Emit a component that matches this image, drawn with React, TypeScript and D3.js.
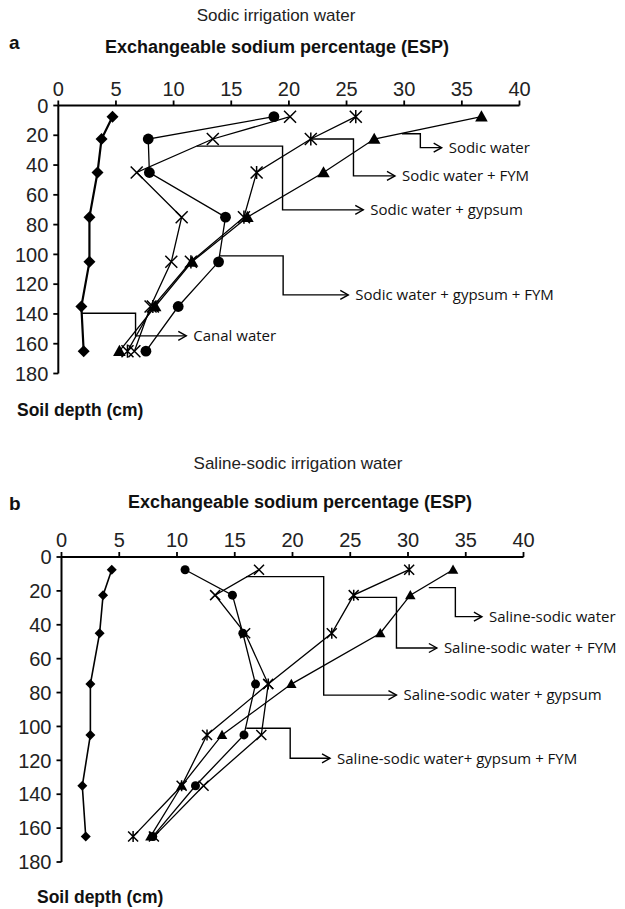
import React from 'react';
import * as d3 from 'd3';

// ---------- data ----------
const DEPTHS = [7.5, 22.5, 45, 75, 105, 135, 165];
const ESP_TICKS = [0, 5, 10, 15, 20, 25, 30, 35, 40];
const DEPTH_TICKS = [0, 20, 40, 60, 80, 100, 120, 140, 160, 180];

// Panel a: sodic irrigation water
const A_CANAL = [4.7, 3.75, 3.4, 2.7, 2.7, 2.0, 2.2];
const A_SODIC = [36.7, 27.4, 23.0, 16.4, 11.6, 8.4, 5.3];
const A_SODIC_FYM = [25.8, 21.9, 17.2, 16.1, 11.5, 8.2, 6.0];
const A_SODIC_GYP = [20.1, 13.4, 6.8, 10.7, 9.8, 8.0, 6.6];
const A_SODIC_GYP_FYM = [18.7, 7.8, 7.9, 14.5, 13.9, 10.4, 7.6];

// Panel b: saline-sodic irrigation water
const B_CANAL = [4.35, 3.6, 3.3, 2.5, 2.5, 1.8, 2.1];
const B_SS = [33.9, 30.2, 27.6, 19.9, 13.9, 10.4, 7.7];
const B_SS_FYM = [30.1, 25.3, 23.4, 17.9, 12.6, 10.4, 6.2];
const B_SS_GYP = [17.1, 13.3, 15.9, 17.9, 17.3, 12.3, 8.0];
const B_SS_GYP_FYM = [10.7, 14.8, 15.7, 16.8, 15.8, 11.6, 7.9];

const A_LABELS = ['Canal water', 'Sodic water', 'Sodic water + FYM', 'Sodic water + gypsum', 'Sodic water + gypsum + FYM'];
const B_LABELS = ['Saline-sodic water', 'Saline-sodic water + FYM', 'Saline-sodic water + gypsum', 'Saline-sodic water+ gypsum + FYM'];

type MarkerType = 'diamond' | 'circle' | 'x' | 'asterisk' | 'triangle';

interface Series { values: number[]; marker: MarkerType; thick?: boolean }
interface Leader { label: string; sx: number; sy: number; ex: number; ey: number; tx: number }

const A_SERIES: Series[] = [
  { values: A_CANAL, marker: 'diamond', thick: true },
  { values: A_SODIC_GYP_FYM, marker: 'circle' },
  { values: A_SODIC_GYP, marker: 'x' },
  { values: A_SODIC_FYM, marker: 'asterisk' },
  { values: A_SODIC, marker: 'triangle' },
];
const B_SERIES: Series[] = [
  { values: B_CANAL, marker: 'diamond', thick: true },
  { values: B_SS_GYP_FYM, marker: 'circle' },
  { values: B_SS_GYP, marker: 'x' },
  { values: B_SS_FYM, marker: 'asterisk' },
  { values: B_SS, marker: 'triangle' },
];

// leaders in data coordinates: start (sx, sy) -> elbow at ex -> down to ey -> arrow to tx
const A_LEADERS: Leader[] = [
  { label: A_LABELS[1], sx: 29.8, sy: 19, ex: 31.4, ey: 28.3, tx: 33.25 },
  { label: A_LABELS[2], sx: 22.0, sy: 22.5, ex: 25.6, ey: 47.3, tx: 29.2 },
  { label: A_LABELS[3], sx: 12.0, sy: 27.3, ex: 19.45, ey: 70.1, tx: 26.45 },
  { label: A_LABELS[4], sx: 14.0, sy: 101, ex: 19.5, ey: 127.2, tx: 25.15 },
  { label: A_LABELS[0], sx: 2.0, sy: 139.5, ex: 6.7, ey: 154.7, tx: 11.1 },
];
const B_LEADERS: Leader[] = [
  { label: B_LABELS[0], sx: 31.8, sy: 18.1, ex: 34.1, ey: 35.2, tx: 36.4 },
  { label: B_LABELS[1], sx: 25.3, sy: 23.8, ex: 29.0, ey: 53.7, tx: 32.5 },
  { label: B_LABELS[2], sx: 16.0, sy: 11.6, ex: 22.7, ey: 81.5, tx: 29.0 },
  { label: B_LABELS[3], sx: 16.0, sy: 101.1, ex: 19.8, ey: 118.8, tx: 23.25 },
];

const AX_FONT = '"Liberation Sans", Arial, sans-serif';
const LEG_FONT = '"Open Sans", "Noto Sans", sans-serif';

function Marker({ type, x, y, size }: { type: MarkerType; x: number; y: number; size: number }) {
  const s = size;
  switch (type) {
    case 'diamond':
      return <path d={`M${x},${y - s}L${x + s},${y}L${x},${y + s}L${x - s},${y}Z`} fill="#000" />;
    case 'circle':
      return <circle cx={x} cy={y} r={s * 0.9} fill="#000" />;
    case 'triangle':
      return <path d={`M${x},${y - s * 1.05}L${x + s * 1.05},${y + s * 0.8}L${x - s * 1.05},${y + s * 0.8}Z`} fill="#000" />;
    case 'x':
      return (
        <path d={`M${x - s},${y - s}L${x + s},${y + s}M${x - s},${y + s}L${x + s},${y - s}`} stroke="#000" strokeWidth={1.5} fill="none" />
      );
    case 'asterisk':
      return (
        <path d={`M${x - s},${y - s}L${x + s},${y + s}M${x - s},${y + s}L${x + s},${y - s}M${x},${y - s * 1.1}L${x},${y + s * 1.1}`} stroke="#000" strokeWidth={1.5} fill="none" />
      );
  }
  return null;
}

interface PanelProps {
  left: number; right: number; top: number; bottom: number;
  series: Series[]; leaders: Leader[];
  markerSize: number; canalWidth: number;
}

function Panel({ left, right, top, bottom, series, leaders, markerSize, canalWidth }: PanelProps) {
  const x = d3.scaleLinear().domain([0, 40]).range([left, right]);
  const y = d3.scaleLinear().domain([0, 180]).range([top, bottom]);
  const line = d3.line<number>().x((v) => x(v)).y((_, i) => y(DEPTHS[i]));
  return (
    <g>
      {/* axes */}
      <line x1={x(0)} x2={x(40)} y1={y(0)} y2={y(0)} stroke="#000" strokeWidth={2} />
      <line x1={x(0)} x2={x(0)} y1={y(0)} y2={y(180)} stroke="#000" strokeWidth={2} />
      {ESP_TICKS.map((t) => (
        <g key={'xt' + t}>
          <line x1={x(t)} x2={x(t)} y1={y(0)} y2={y(0) - 5} stroke="#000" strokeWidth={1.8} />
          <text x={x(t)} y={y(0) - 10} textAnchor="middle" fontFamily={AX_FONT} fontSize={20} fill="#222">{t}</text>
        </g>
      ))}
      {DEPTH_TICKS.map((t) => (
        <g key={'yt' + t}>
          <line x1={x(0) - 5} x2={x(0)} y1={y(t)} y2={y(t)} stroke="#000" strokeWidth={1.8} />
          <text x={x(0) - 10} y={y(t)} dy="0.36em" textAnchor="end" fontFamily={AX_FONT} fontSize={20} fill="#222">{t}</text>
        </g>
      ))}
      {/* leaders */}
      {leaders.map((l, i) => {
        const sx = x(l.sx), sy = y(l.sy), ex = x(l.ex), ey = y(l.ey), tx = x(l.tx);
        return (
          <g key={'ld' + i}>
            <path d={`M${sx},${sy}H${ex}V${ey}H${tx}`} fill="none" stroke="#000" strokeWidth={1.4} />
            <path d={`M${tx - 8},${ey - 4.5}L${tx},${ey}L${tx - 8},${ey + 4.5}`} fill="none" stroke="#000" strokeWidth={1.4} />
            <text x={tx + 7} y={ey} dy="0.36em" fontFamily={LEG_FONT} fontSize={15} fill="#111">{l.label}</text>
          </g>
        );
      })}
      {/* series lines */}
      {series.map((s, i) => (
        <path key={'ln' + i} d={line(s.values) || ''} fill="none" stroke="#000" strokeWidth={s.thick ? canalWidth : 1.3} />
      ))}
      {/* markers */}
      {series.map((s, i) => (
        <g key={'mk' + i}>
          {s.values.map((v, j) => (
            <Marker key={j} type={s.marker} x={x(v)} y={y(DEPTHS[j])} size={markerSize} />
          ))}
        </g>
      ))}
    </g>
  );
}

export default function App() {
  return (
    <svg width={625} height={909} viewBox="0 0 625 909" style={{ position: 'absolute', left: 0, top: 0, background: '#fff' }}>
      <rect width={625} height={909} fill="#fff" />
      {/* Panel a */}
      <text x={276} y={15} dy="0.35em" textAnchor="middle" fontFamily={AX_FONT} fontSize={17} fill="#222">Sodic irrigation water</text>
      <text x={9} y={42} dy="0.35em" fontFamily={AX_FONT} fontSize={19} fontWeight="bold" fill="#111">a</text>
      <text x={277} y={47} dy="0.35em" textAnchor="middle" fontFamily={AX_FONT} fontSize={18} fontWeight="bold" fill="#111">Exchangeable sodium percentage (ESP)</text>
      <Panel left={58.3} right={519.5} top={105.5} bottom={373.5} series={A_SERIES} leaders={A_LEADERS} markerSize={6} canalWidth={2.2} />
      <text x={17} y={410} dy="0.35em" fontFamily={AX_FONT} fontSize={17.5} fontWeight="bold" fill="#111">Soil depth (cm)</text>

      {/* Panel b */}
      <text x={298} y={463} dy="0.35em" textAnchor="middle" fontFamily={AX_FONT} fontSize={17} fill="#222">Saline-sodic irrigation water</text>
      <text x={9} y={503} dy="0.35em" fontFamily={AX_FONT} fontSize={19} fontWeight="bold" fill="#111">b</text>
      <text x={300} y={502} dy="0.35em" textAnchor="middle" fontFamily={AX_FONT} fontSize={18} fontWeight="bold" fill="#111">Exchangeable sodium percentage (ESP)</text>
      <Panel left={61.5} right={523.5} top={557} bottom={862} series={B_SERIES} leaders={B_LEADERS} markerSize={5} canalWidth={1.6} />
      <text x={37} y={897} dy="0.35em" fontFamily={AX_FONT} fontSize={17.5} fontWeight="bold" fill="#111">Soil depth (cm)</text>
    </svg>
  );
}
